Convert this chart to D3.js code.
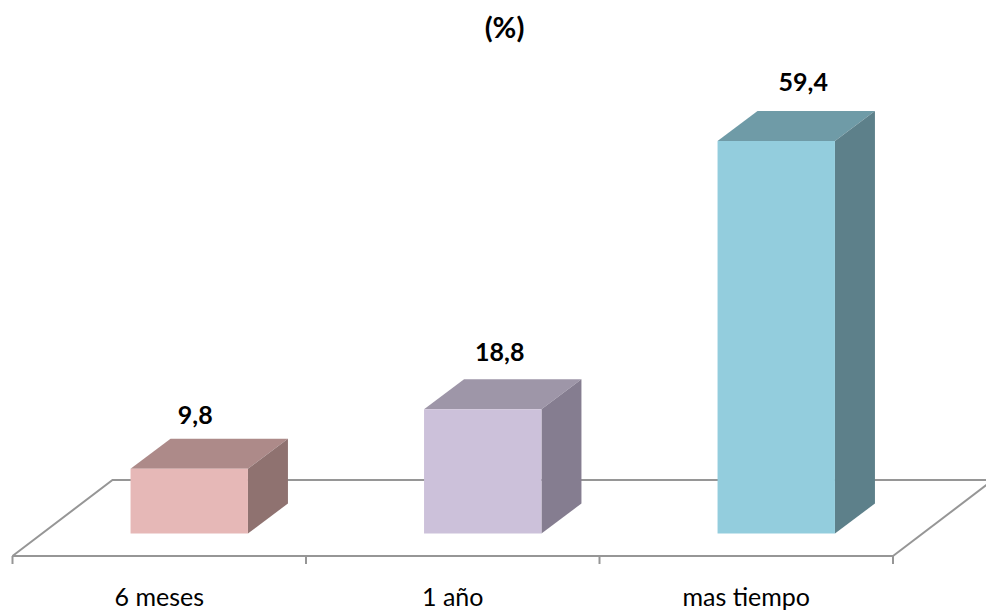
<!DOCTYPE html>
<html>
<head>
<meta charset="utf-8">
<script src="https://cdn.jsdelivr.net/npm/d3@7/dist/d3.min.js"></script>
<style>
html, body { margin: 0; padding: 0; background: #fff; }
svg { display: block; }
text { font-family: Lato, "Open Sans", sans-serif; fill: #000; }
</style>
</head>
<body>
<script>
const categories = ["6 meses", "1 año", "mas tiempo"];
const values = [9.8, 18.8, 59.4];
const valueLabels = ["9,8", "18,8", "59,4"];
const frontColors = ["#e6b8b7", "#ccc1da", "#93cddd"];
const topColors = ["#ad8a89", "#9e96a8", "#6f9ba7"];
const sideColors = ["#8f7270", "#857d90", "#5d808a"];
const chartTitle = "(%)";

const width = 986, height = 612;

// Horizontal bands run along the front edge of the floor.
const x = d3.scaleBand().domain(categories).range([12.5, 893]).paddingInner(0.6).paddingOuter(0.3);
const band = d3.scaleBand().domain(categories).range([12.5, 893]);
const y = d3.scaleLinear().domain([0, 59.4]).range([533.5, 141]);

// Oblique projection offsets: floor depth and box depth.
const floorFrontY = 556, floorBackY = 480;
const floorDx = 100;
const boxDx = 40, boxDy = -30;
const barShift = 30;

// Value labels were nudged by hand off their bars.
const labelDx = [6, 17, 27];
const labelDy = [45, 48.5, 50];

const svg = d3.select("body").append("svg").attr("width", width).attr("height", height);

svg.append("text")
  .attr("x", 504.5).attr("y", 38)
  .attr("text-anchor", "middle")
  .attr("font-size", 29).attr("font-weight", 700)
  .text(chartTitle);

// Floor outline
const floorColor = "#969696";
const floor = svg.append("g").attr("fill", "none").attr("stroke", floorColor).attr("stroke-width", 2);
const [x0, x1] = band.range();
floor.append("path").attr("d", d3.line()([[x0, floorFrontY], [x1, floorFrontY]]));
floor.append("path").attr("d", d3.line()([[x0, floorFrontY], [x0 + floorDx, floorBackY], [width, floorBackY]]));
floor.append("path").attr("d", d3.line()([[x1, floorFrontY], [x1 + floorDx, floorBackY]]));

// Tick marks sit on the band boundaries
const edges = categories.map(c => band(c)).concat([x1]);
floor.selectAll("line.tick").data(edges).join("line")
  .attr("class", "tick")
  .attr("x1", d => d).attr("x2", d => d)
  .attr("y1", floorFrontY).attr("y2", floorFrontY + 8);

// Category labels via the axis generator
const axis = d3.axisBottom(band).tickSize(0).tickPadding(32.5);
const axisG = svg.append("g").attr("transform", `translate(0,${floorFrontY})`).call(axis);
axisG.select(".domain").remove();
axisG.selectAll("text").attr("font-size", 25).style("font-family", "Lato, 'Open Sans', sans-serif").attr("fill", "#000");

// 3D boxes
const bars = svg.selectAll("g.bar").data(categories).join("g").attr("class", "bar");
bars.each(function (c, i) {
  const g = d3.select(this);
  const l = x(c) + barShift, r = l + x.bandwidth();
  const b = y(0), t = y(values[i]);
  g.append("path").attr("fill", topColors[i])
    .attr("d", d3.line()([[l, t], [l + boxDx, t + boxDy], [r + boxDx, t + boxDy], [r, t]]) + "Z");
  g.append("path").attr("fill", sideColors[i])
    .attr("d", d3.line()([[r, t], [r + boxDx, t + boxDy], [r + boxDx, b + boxDy], [r, b]]) + "Z");
  g.append("rect").attr("fill", frontColors[i])
    .attr("x", l).attr("y", t).attr("width", x.bandwidth()).attr("height", b - t);
  g.append("text")
    .attr("x", (l + r) / 2 + labelDx[i]).attr("y", t - labelDy[i])
    .attr("text-anchor", "middle")
    .attr("font-size", 25).attr("font-weight", 700)
    .text(valueLabels[i]);
});
</script>
</body>
</html>
